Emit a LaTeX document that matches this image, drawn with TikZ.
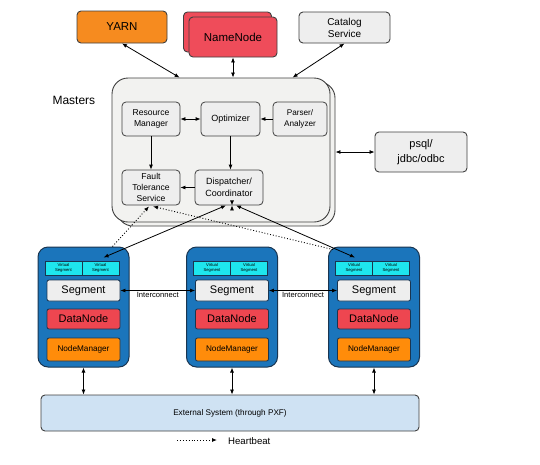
\documentclass[tikz,border=0pt]{standalone}
\usepackage{fontspec}
\setmainfont{Liberation Sans}
\usetikzlibrary{arrows.meta,calc}
\definecolor{yarnc}{HTML}{F68B1F}
\definecolor{nnc}{HTML}{EF4C5A}
\definecolor{grayc}{HTML}{EEEEEE}
\definecolor{masterc}{HTML}{F2F2F0}
\definecolor{hostc}{HTML}{1B75BB}
\definecolor{hostb}{HTML}{1A3550}
\definecolor{vsc}{HTML}{1EE6EE}
\definecolor{dnc}{HTML}{EE4650}
\definecolor{nmc}{HTML}{FF8C0A}
\definecolor{extc}{HTML}{CFE2F3}
\definecolor{bordc}{HTML}{404040}
\tikzset{
  box/.style={draw=bordc, line width=0.9pt, rounded corners=4pt, inner sep=0pt, align=center},
  inbox/.style={box, fill=grayc, line width=0.8pt, font=\fontsize{8.6}{11}\selectfont},
  hostbox/.style={draw=hostb, line width=1pt, fill=hostc, rounded corners=10pt, minimum width=91pt, minimum height=120pt},
  vsbox/.style={draw=hostb, line width=0.5pt, fill=vsc, inner sep=0pt, minimum width=37pt, minimum height=14pt, align=center, font=\fontsize{4.2}{5}\selectfont},
  segbox/.style={draw=hostb, line width=0.8pt, rounded corners=2pt, inner sep=0pt, minimum width=73pt, align=center},
  arr/.style={line width=0.8pt, -{Latex[length=5pt,width=4pt]}},
  darr/.style={line width=0.8pt, {Latex[length=5pt,width=4pt]}-{Latex[length=5pt,width=4pt]}},
  hb/.style={line width=0.9pt, dotted, -{Latex[length=5pt,width=4pt]}},
  lbl/.style={inner sep=1pt}
}
\begin{document}
\begin{tikzpicture}[x=1pt,y=-1pt]
\useasboundingbox[fill=white] (0,0) rectangle (540,464);

% top services
\node[box, fill=yarnc, minimum width=90pt, minimum height=32pt, font=\fontsize{11.5}{13}\selectfont] (yarn) at (122,27) {YARN};
\node[box, fill=nnc, minimum width=88pt, minimum height=40pt] (nnback) at (227.5,32) {};
\node[box, fill=nnc, minimum width=88pt, minimum height=40pt, font=\fontsize{11.5}{13}\selectfont] (nn) at (233,37) {NameNode};
\node[box, fill=grayc, minimum width=91pt, minimum height=31pt, font=\fontsize{10}{12}\selectfont] (cat) at (344.5,27.5) {Catalog\\Service};

% masters
\node[draw=bordc, line width=0.9pt, fill=masterc, rounded corners=16pt, minimum width=218pt, minimum height=144pt, inner sep=0pt] (mback) at (226,154) {};
\node[draw=bordc, line width=0.9pt, fill=masterc, rounded corners=16pt, minimum width=218pt, minimum height=144pt, inner sep=0pt] (masters) at (221,150) {};
\node[font=\fontsize{12}{14}\selectfont, anchor=west] (mlabel) at (49,100) {Masters};

\node[inbox, minimum width=58pt, minimum height=34pt] (rm) at (151,119) {Resource\\Manager};
\node[inbox, minimum width=59pt, minimum height=34pt, font=\fontsize{9}{11}\selectfont] (opt) at (230.5,119) {Optimizer};
\node[inbox, minimum width=54pt, minimum height=34pt, font=\fontsize{8.2}{10.5}\selectfont] (parser) at (300,119) {Parser/\\Analyzer};
\node[inbox, minimum width=58pt, minimum height=35pt] (fts) at (151,187.5) {Fault\\Tolerance\\Service};
\node[inbox, minimum width=68pt, minimum height=35pt, font=\fontsize{9}{12}\selectfont] (disp) at (229,187.5) {Dispatcher/\\Coordinator};

\node[box, fill=grayc, minimum width=92pt, minimum height=40pt, font=\fontsize{11}{15}\selectfont] (psql) at (421,152) {psql/\\jdbc/odbc};

% arrows top
\draw[darr] (yarn.south) -- ($(masters.north west)+(68,0)$);
\draw[darr] (nn.south) -- (nn.south |- masters.north);
\draw[darr] (cat.south) -- ($(masters.north west)+(181,0)$);
\draw[darr] (mback.east |- psql.west) -- (psql.west);

% arrows inside masters
\draw[darr] (rm.east) -- (opt.west);
\draw[arr] (parser.west) -- (opt.east);
\draw[arr] (rm.south) -- (fts.north);
\draw[arr] (opt.south) -- (opt.south |- disp.north);
\draw[arr] (disp.west) -- (fts.east);

% hosts
\foreach \n/\cx in {h1/83.5, h2/232, h3/374} {
  \node[hostbox] (\n) at (\cx,307) {};
  \node[vsbox] (\n vl) at (\cx-20,268) {Virtual\\Segment};
  \node[vsbox] (\n vr) at (\cx+17,268) {Virtual\\Segment};
  \node[segbox, fill=grayc, minimum height=21pt, font=\fontsize{11}{13}\selectfont] (\n seg) at (\cx,290.5) {Segment};
  \node[segbox, fill=dnc, minimum height=20pt, font=\fontsize{11}{13}\selectfont] (\n dn) at (\cx,319) {DataNode};
  \node[segbox, fill=nmc, minimum height=23pt, font=\fontsize{8.2}{10}\selectfont] (\n nm) at (\cx,349.5) {NodeManager};
}

% interconnect
\draw[darr] (h1seg.east) -- (h2seg.west) node[midway, below=0pt, lbl, font=\fontsize{7.6}{9}\selectfont] {Interconnect};
\draw[darr] (h2seg.east) -- (h3seg.west) node[midway, below=0pt, lbl, font=\fontsize{7.6}{9}\selectfont] {Interconnect};

% dispatcher to hosts
\draw[darr] ($(disp.south)+(-3,0)$) -- ($(h1.north)+(20,11)$);
\draw[darr] ($(disp.south)+(3,0)$) -- ($(disp.south)+(3,0)$ |- h2.north);
\draw[darr] ($(disp.south)+(7,0)$) -- ($(h3.north)+(-19,11)$);

% heartbeat
\draw[hb] ($(h1.north)+(29,0)$) -- ($(fts.south)+(-2,1)$);
\draw[hb] ($(h3.north west)+(5,3)$) -- ($(fts.south)+(2,1)$);

% external
\node[box, fill=extc, minimum width=378pt, minimum height=36pt, font=\fontsize{8.2}{10}\selectfont] (ext) at (230,413) {External System (through PXF)};
\draw[darr] (h1.south) -- (h1.south |- ext.north);
\draw[darr] (h2.south) -- (h2.south |- ext.north);
\draw[darr] (h3.south) -- (h3.south |- ext.north);

% legend
\coordinate (lg1) at (177,440);
\coordinate (lg2) at (217,440);
\draw[hb] (lg1) -- (lg2);
\node[anchor=west, font=\fontsize{9.6}{11}\selectfont, inner sep=0pt] (lgt) at (228,441) {Heartbeat};
\end{tikzpicture}
\end{document}
